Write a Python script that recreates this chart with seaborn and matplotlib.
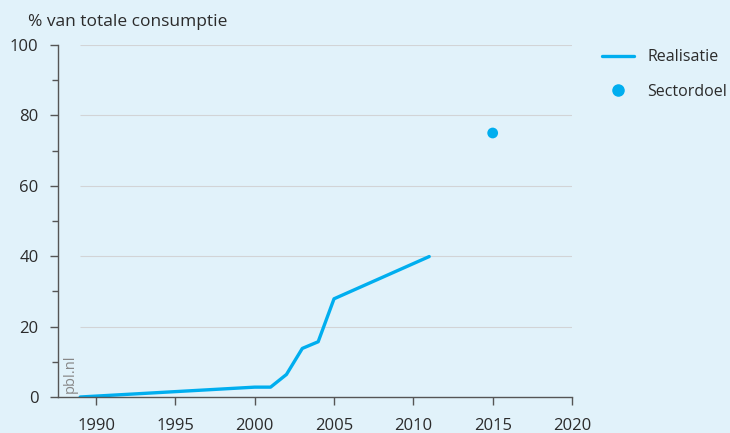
import numpy as np
import pandas as pd
import seaborn as sns
import matplotlib.pyplot as plt
from matplotlib.lines import Line2D

# Données
jaren = [1989, 2000, 2001, 2002, 2003, 2004, 2005, 2011]
realisatie = [0.0, 2.8, 2.8, 6.4, 13.8, 15.7, 27.9, 39.9]
doel_jaar = [2015]
sectordoel = [75]

fond = '#E1F2FA'
bleu = '#00AEEF'
texte = '#2b2b2b'

sns.set_style('white')
plt.rcParams['font.family'] = ['Open Sans', 'DejaVu Sans']

fig = plt.figure(figsize=(7.3, 4.33), dpi=100, facecolor=fond)
ax = fig.add_axes([58 / 730, 1 - 397 / 433, (572 - 58) / 730, (397 - 45) / 433])
ax.set_facecolor(fond)

df = pd.DataFrame({'jaar': jaren, 'waarde': realisatie})
sns.lineplot(data=df, x='jaar', y='waarde', color=bleu, linewidth=2.4, ax=ax)
sns.scatterplot(x=doel_jaar, y=sectordoel, color=bleu, s=60, edgecolor='none', ax=ax, zorder=5)

# Lignes de grille
for v in [20, 40, 60, 80, 100]:
    ax.hlines(v, 1989, 2020, color='#d2d4d6', linewidth=0.8, zorder=0)

ax.set_xlim(1987.6, 2020)
ax.set_ylim(0, 100)
ax.set_xticks([1990, 1995, 2000, 2005, 2010, 2015, 2020])
ax.set_yticks([0, 20, 40, 60, 80, 100])
ax.set_yticks([10, 30, 50, 70, 90], minor=True)
ax.set_xlabel('')
ax.set_ylabel('')

for s in ['top', 'right']:
    ax.spines[s].set_visible(False)
for s in ['left', 'bottom']:
    ax.spines[s].set_color('#555555')
    ax.spines[s].set_linewidth(1)

ax.tick_params(axis='both', which='major', direction='out', length=6, width=1,
               color='#555555', labelcolor=texte, labelsize=12, bottom=True, left=True)
ax.tick_params(axis='y', which='minor', direction='out', length=4, width=1, color='#555555', left=True)
ax.tick_params(axis='y', pad=8)
ax.tick_params(axis='x', pad=9)

fig.text(28 / 730, 1 - 22 / 433, '% van totale consumptie', fontsize=12.5, color=texte, va='center')
ax.text(1988.35, 1, 'pbl.nl', rotation=90, fontsize=10.5, color='#888888', va='bottom', ha='center')

handles = [Line2D([0], [0], color=bleu, linewidth=2.4),
           Line2D([0], [0], marker='o', color=bleu, linestyle='none', markersize=8)]
leg = fig.legend(handles, ['Realisatie', 'Sectordoel'], loc='upper left',
                 bbox_to_anchor=(596 / 730, 1 - 43 / 433), frameon=False,
                 fontsize=11.5, labelcolor=texte, handlelength=2.0, handletextpad=0.8,
                 labelspacing=1.15, borderaxespad=0)

plt.savefig('out.png', dpi=100, facecolor=fond)
